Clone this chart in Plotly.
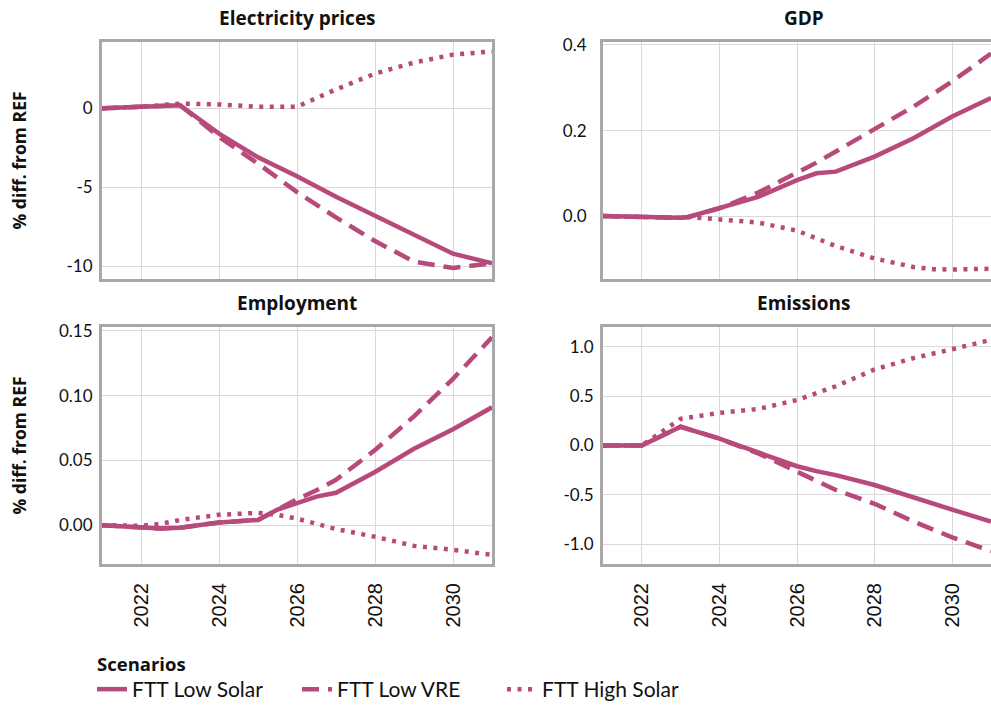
import plotly.graph_objects as go

# ---- data: % difference from the REF scenario ----
years = [2021, 2022, 2023, 2024, 2025, 2026, 2027, 2028, 2029, 2030, 2031]

elec_low_solar = [0.0, 0.1, 0.2, -1.6, -3.1, -4.3, -5.6, -6.8, -8.0, -9.2, -9.8]
elec_low_vre = [0.0, 0.1, 0.2, -1.8, -3.5, -5.3, -6.9, -8.4, -9.7, -10.1, -9.8]
elec_high_solar = [0.0, 0.1, 0.3, 0.25, 0.1, 0.1, 1.2, 2.2, 2.9, 3.4, 3.6]

gdp_years = [2021, 2022, 2022.5, 2023, 2023.2, 2024, 2025, 2026, 2026.5, 2027, 2028, 2029, 2029.5, 2030, 2031]
gdp_low_solar = [0.0, -0.003, -0.005, -0.004, -0.002, 0.018, 0.045, 0.084, 0.100, 0.104, 0.139, 0.182, 0.209, 0.233, 0.276]
gdp_low_vre = [0.0, -0.003, -0.005, -0.004, -0.002, 0.018, 0.055, 0.100, 0.125, 0.151, 0.202, 0.256, 0.285, 0.315, 0.380]
gdp_high_solar = [0.0, -0.003, -0.005, -0.004, -0.002, -0.008, -0.015, -0.034, -0.052, -0.070, -0.099, -0.119, -0.124, -0.125, -0.123]

emp_years = [2021, 2022, 2022.5, 2023, 2024, 2025, 2025.5, 2026, 2026.5, 2027, 2028, 2029, 2030, 2031]
emp_low_solar = [0.0, -0.0015, -0.0026, -0.002, 0.002, 0.004, 0.012, 0.017, 0.022, 0.025, 0.041, 0.059, 0.074, 0.091]
emp_low_vre = [0.0, -0.0015, -0.0026, -0.002, 0.002, 0.004, 0.012, 0.020, 0.027, 0.035, 0.058, 0.084, 0.113, 0.145]
emp_high_solar = [0.0, -0.0005, 0.001, 0.004, 0.008, 0.0095, 0.008, 0.005, 0.001, -0.003, -0.009, -0.016, -0.019, -0.023]

emi_years = [2021, 2022, 2023, 2024, 2025, 2026, 2026.5, 2027, 2028, 2029, 2030, 2031]
emi_low_solar = [0.0, 0.0, 0.19, 0.07, -0.07, -0.21, -0.26, -0.30, -0.40, -0.53, -0.65, -0.77]
emi_low_vre = [0.0, 0.0, 0.19, 0.07, -0.08, -0.26, -0.35, -0.45, -0.59, -0.77, -0.93, -1.07]
emi_high_solar = [0.0, 0.0, 0.27, 0.33, 0.37, 0.46, 0.53, 0.60, 0.77, 0.885, 0.975, 1.07]

scenarios = ["FTT Low Solar", "FTT Low VRE", "FTT High Solar"]
panel_titles = ["Electricity prices", "GDP", "Employment", "Emissions"]
x_ticks = [2022, 2024, 2026, 2028, 2030]

panels = [
    (years, [elec_low_solar, elec_low_vre, elec_high_solar], [-10.8, 4.2], [-10, -5, 0], ["-10", "-5", "0"]),
    (gdp_years, [gdp_low_solar, gdp_low_vre, gdp_high_solar], [-0.147, 0.407], [0.0, 0.2, 0.4], ["0.0", "0.2", "0.4"]),
    (emp_years, [emp_low_solar, emp_low_vre, emp_high_solar], [-0.030, 0.153], [0.0, 0.05, 0.10, 0.15], ["0.00", "0.05", "0.10", "0.15"]),
    (emi_years, [emi_low_solar, emi_low_vre, emi_high_solar], [-1.2, 1.2], [-1.0, -0.5, 0.0, 0.5, 1.0], ["-1.0", "-0.5", "0.0", "0.5", "1.0"]),
]

# ---- style ----
W, H = 991, 710
LINE = "#b84a7b"
BORDER = "#a8a8a8"
GRID = "#d9d9d9"
FONT = "Lato"
BOLD_FONT = "Open Sans"
YEAR_FONT = "Liberation Sans"
dashes = ["solid", "17px,9px", "4px,6.5px"]
y_label_gap = [3, 10, 3, 3]

# panel domains in paper units (fig has zero margins)
x_domains = [[102 / W, 492 / W], [603 / W, 1.0]]
y_domains = [[1 - 279 / H, 1 - 42 / H], [1 - 564 / H, 1 - 327 / H]]
title_shift = [0, 7 / W]

fig = go.Figure()

for i, (xs, series, yr, yt, ytt) in enumerate(panels):
    row, col = divmod(i, 2)
    ax = "" if i == 0 else str(i + 1)
    for j, (name, ys) in enumerate(zip(scenarios, series)):
        fig.add_trace(go.Scatter(
            x=xs, y=ys, mode="lines", name=name,
            line=dict(color=LINE, width=4.5, dash=dashes[j]),
            showlegend=(i == 0), legendgroup=name,
            xaxis="x" + ax, yaxis="y" + ax,
        ))
    fig.layout["xaxis" + ax] = dict(
        domain=x_domains[col], anchor="y" + ax, range=[2021, 2031],
        tickvals=x_ticks, ticktext=[str(t) for t in x_ticks],
        showticklabels=(row == 1), tickangle=-90,
        showgrid=True, gridcolor=GRID, gridwidth=1, zeroline=False,
        showline=True, mirror=True, linecolor=BORDER, linewidth=3,
        ticks="", ticklabelstandoff=8, automargin=False,
        tickfont=dict(family=YEAR_FONT, size=20, color="#111"),
    )
    fig.layout["yaxis" + ax] = dict(
        domain=y_domains[row], anchor="x" + ax, range=yr,
        tickvals=yt, ticktext=ytt,
        showgrid=True, gridcolor=GRID, gridwidth=1, zeroline=False,
        showline=True, mirror=True, linecolor=BORDER, linewidth=3,
        ticks="", ticklabelstandoff=y_label_gap[i], automargin=False,
        tickfont=dict(family=FONT, size=17, color="#111"),
    )
    fig.add_annotation(
        text="<b>" + panel_titles[i] + "</b>", xref="paper", yref="paper",
        x=sum(x_domains[col]) / 2 + title_shift[col], y=y_domains[row][1] + 24 / H,
        xanchor="center", yanchor="middle", showarrow=False,
        font=dict(family=BOLD_FONT, size=19, color="#111"),
    )

for row in range(2):
    fig.add_annotation(
        text="<b>% diff. from REF</b>", xref="paper", yref="paper",
        x=18 / W, y=sum(y_domains[row]) / 2, textangle=-90,
        xanchor="center", yanchor="middle", showarrow=False,
        font=dict(family=BOLD_FONT, size=17.5, color="#111"),
    )

# legend heading
fig.add_annotation(
    text="<b>Scenarios</b>", xref="paper", yref="paper",
    x=95 / W, y=1 - 663 / H, xanchor="left", yanchor="middle", showarrow=False,
    font=dict(family=BOLD_FONT, size=18.5, color="#111"),
)

# legend sits flush with the bottom edge so it never pushes the margins
fig.update_layout(
    width=W, height=H,
    margin=dict(l=0, r=0, t=0, b=0),
    paper_bgcolor="white", plot_bgcolor="white",
    font=dict(family=FONT, size=17, color="#111"),
    legend=dict(
        orientation="h", x=92 / W, y=0, xanchor="left", yanchor="bottom",
        font=dict(family=FONT, size=21, color="#111"),
        itemwidth=30, tracegroupgap=0, entrywidth=160, entrywidthmode="pixels",
    ),
)

fig.write_html("out.html")
